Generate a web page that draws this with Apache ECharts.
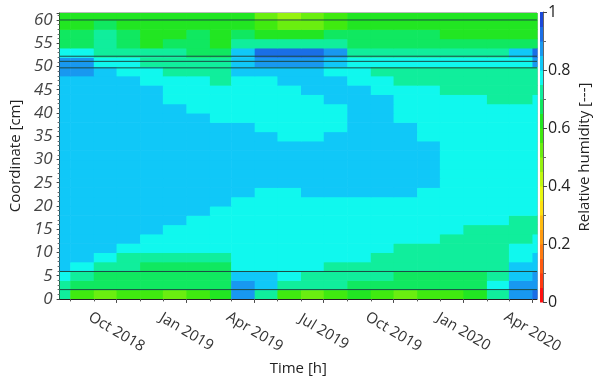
<!DOCTYPE html>
<html>
<head>
<meta charset="utf-8">
<script src="https://cdn.jsdelivr.net/npm/echarts@6/dist/echarts.min.js"></script>
<style>html,body{margin:0;padding:0;background:#fff}#chart{width:593px;height:381px}</style>
</head>
<body>
<div id="chart"></div>
<script>
// time columns (month starts) and depth rows [cm]
var timeEdges = ['2018-07-18','2018-08-01','2018-09-01','2018-10-01','2018-11-01','2018-12-01',
  '2019-01-01','2019-02-01','2019-03-01','2019-04-01','2019-05-01','2019-06-01','2019-07-01',
  '2019-08-01','2019-09-01','2019-10-01','2019-11-01','2019-12-01','2020-01-01','2020-02-01',
  '2020-03-01','2020-04-01','2020-04-07'];
var depthEdges = [0,2,4,6,8,10,12,14,16,18,20,22,24,26,28,30,32,34,36,38,40,42,44,46,48,50,52,54,56,58,60,61.5];

// relative humidity per depth row (bottom -> top), one value per time column
var humidity = [
  [.72,.57,.52,.57,.57,.52,.57,.62,.87,.72,.57,.52,.57,.62,.57,.52,.57,.57,.62,.72,.87,.92],
  [.72,.67,.67,.67,.67,.67,.67,.67,.87,.82,.72,.72,.72,.67,.67,.67,.67,.67,.67,.77,.87,.87],
  [.77,.72,.67,.67,.67,.67,.67,.67,.82,.82,.77,.72,.72,.72,.72,.67,.67,.67,.67,.72,.82,.87],
  [.82,.77,.72,.72,.67,.67,.67,.67,.77,.77,.77,.77,.72,.72,.72,.72,.72,.72,.72,.72,.82,.82],
  [.82,.82,.77,.72,.72,.72,.72,.72,.77,.77,.77,.77,.77,.77,.72,.72,.72,.72,.72,.72,.77,.82],
  [.82,.82,.82,.77,.77,.77,.77,.77,.77,.77,.77,.77,.77,.77,.77,.72,.72,.72,.72,.72,.77,.77],
  [.82,.82,.82,.82,.77,.77,.77,.77,.77,.77,.77,.77,.77,.77,.77,.77,.77,.72,.72,.72,.72,.77],
  [.82,.82,.82,.82,.82,.77,.77,.77,.77,.77,.77,.77,.77,.77,.77,.77,.77,.77,.72,.72,.72,.72],
  [.82,.82,.82,.82,.82,.82,.77,.77,.77,.77,.77,.77,.77,.77,.77,.77,.77,.77,.77,.77,.72,.72],
  [.82,.82,.82,.82,.82,.82,.82,.77,.77,.77,.77,.77,.77,.77,.77,.77,.77,.77,.77,.77,.77,.77],
  [.82,.82,.82,.82,.82,.82,.82,.82,.77,.77,.77,.77,.77,.77,.77,.77,.77,.77,.77,.77,.77,.77],
  [.82,.82,.82,.82,.82,.82,.82,.82,.82,.77,.77,.82,.82,.82,.82,.82,.77,.77,.77,.77,.77,.77],
  [.82,.82,.82,.82,.82,.82,.82,.82,.82,.82,.82,.82,.82,.82,.82,.82,.82,.77,.77,.77,.77,.77],
  [.82,.82,.82,.82,.82,.82,.82,.82,.82,.82,.82,.82,.82,.82,.82,.82,.82,.77,.77,.77,.77,.77],
  [.82,.82,.82,.82,.82,.82,.82,.82,.82,.82,.82,.82,.82,.82,.82,.82,.82,.77,.77,.77,.77,.77],
  [.82,.82,.82,.82,.82,.82,.82,.82,.82,.82,.82,.82,.82,.82,.82,.82,.82,.77,.77,.77,.77,.77],
  [.82,.82,.82,.82,.82,.82,.82,.82,.82,.82,.82,.82,.82,.82,.82,.82,.82,.77,.77,.77,.77,.77],
  [.82,.82,.82,.82,.82,.82,.82,.82,.82,.82,.77,.77,.82,.82,.82,.82,.77,.77,.77,.77,.77,.77],
  [.82,.82,.82,.82,.82,.82,.82,.82,.82,.77,.77,.77,.77,.82,.82,.82,.77,.77,.77,.77,.77,.77],
  [.82,.82,.82,.82,.82,.82,.82,.77,.77,.77,.77,.77,.77,.82,.82,.77,.77,.77,.77,.77,.77,.77],
  [.82,.82,.82,.82,.82,.82,.77,.77,.77,.77,.77,.77,.77,.82,.82,.77,.77,.77,.77,.77,.77,.77],
  [.82,.82,.82,.82,.82,.77,.77,.77,.77,.77,.77,.77,.82,.82,.82,.77,.77,.77,.77,.72,.72,.77],
  [.82,.82,.82,.82,.82,.77,.77,.77,.77,.77,.77,.82,.82,.82,.77,.77,.77,.72,.72,.72,.72,.72],
  [.82,.82,.82,.82,.77,.77,.77,.72,.77,.77,.82,.82,.82,.77,.77,.72,.72,.72,.72,.72,.72,.72],
  [.87,.87,.82,.77,.77,.72,.72,.72,.82,.82,.82,.82,.77,.77,.72,.72,.72,.72,.72,.72,.72,.72],
  [.87,.87,.77,.77,.72,.72,.72,.72,.82,.87,.87,.87,.82,.77,.77,.77,.77,.77,.77,.77,.77,.87],
  [.77,.77,.72,.72,.72,.72,.67,.67,.82,.92,.92,.92,.87,.72,.72,.72,.72,.72,.72,.72,.82,.92],
  [.67,.67,.72,.67,.62,.67,.67,.62,.72,.72,.72,.72,.72,.67,.67,.67,.67,.67,.67,.67,.67,.67],
  [.67,.67,.72,.67,.62,.62,.67,.62,.67,.62,.62,.62,.67,.67,.67,.67,.67,.62,.62,.62,.62,.62],
  [.62,.62,.67,.62,.62,.62,.62,.62,.62,.57,.52,.52,.57,.62,.62,.62,.62,.62,.62,.62,.62,.62],
  [.62,.62,.62,.62,.62,.62,.62,.62,.62,.52,.47,.52,.57,.62,.62,.62,.62,.62,.62,.62,.62,.62]
];

// material / observation boundaries drawn as thin lines [cm]
var layerLines = [2.0, 5.9, 49.7, 51.1, 52.2, 60.0];

var labelDates = ['2018-10-01','2019-01-01','2019-04-01','2019-07-01','2019-10-01','2020-01-01','2020-04-01'];
var monthNames = ['Jan','Feb','Mar','Apr','May','Jun','Jul','Aug','Sep','Oct','Nov','Dec'];

var levelBreaks = [0,0.05,0.1,0.15,0.2,0.25,0.3,0.35,0.4,0.45,0.5,0.55,0.6,0.65,0.7,0.75,0.8,0.85,0.9,0.95,1];
var levelColors = ['#ff1010','#ff3a10','#ff5a10','#ff7a10','#ff9a10','#ffbb10','#ffe010','#e8f810',
  '#c0f810','#96f210','#6aee10','#40ea10','#22e622','#10e860','#10ee9c','#10f8ee',
  '#10c8f8','#1898f0','#1a6ee6','#1a48d8'];

function ts(s) {
  var p = s.split('-');
  return new Date(+p[0], +p[1] - 1, +p[2]).getTime();
}

var tMin = ts(timeEdges[0]);
var tMax = ts(timeEdges[timeEdges.length - 1]);

var cells = [];
humidity.forEach(function (row, r) {
  row.forEach(function (v, c) {
    cells.push([v, ts(timeEdges[c]), ts(timeEdges[c + 1]), depthEdges[r], depthEdges[r + 1]]);
  });
});

var barCells = [];
for (var i = 0; i < levelColors.length; i++) {
  barCells.push([(levelBreaks[i] + levelBreaks[i + 1]) / 2, 0, levelBreaks[i], levelBreaks[i + 1]]);
}

var pieces = levelColors.map(function (col, i) {
  var p = {gte: levelBreaks[i], color: col};
  if (i === levelColors.length - 1) p.lte = levelBreaks[i + 1]; else p.lt = levelBreaks[i + 1];
  return p;
});

function renderCell(params, api) {
  var a = api.coord([api.value(1), api.value(4)]);
  var b = api.coord([api.value(2), api.value(3)]);
  return {
    type: 'rect',
    shape: {x: a[0], y: a[1], width: b[0] - a[0] + 0.6, height: b[1] - a[1] + 0.6},
    style: {fill: api.visual('color')}
  };
}

function renderBar(params, api) {
  var top = api.coord([0, api.value(3)]);
  var bot = api.coord([0, api.value(2)]);
  var w = api.size([1, 0])[0];
  return {
    type: 'rect',
    shape: {x: top[0] - w / 2, y: top[1], width: w, height: bot[1] - top[1] + 0.5},
    style: {fill: api.visual('color')}
  };
}

var font = 'Open Sans';
var lineSeries = layerLines.map(function (d) {
  return {
    type: 'line', xAxisIndex: 0, yAxisIndex: 0, silent: true, showSymbol: false,
    lineStyle: {color: '#1d4a44', width: 1},
    data: [[tMin, d], [tMax, d]], z: 5
  };
});

var chart = echarts.init(document.getElementById('chart'));
chart.setOption({
  animation: false,
  textStyle: {fontFamily: font},
  grid: [
    {left: 58, top: 13, width: 479, height: 290, show: true, borderColor: '#777', borderWidth: 1, backgroundColor: 'transparent'},
    {left: 540, top: 12, width: 7, height: 290}
  ],
  visualMap: {
    type: 'piecewise', show: false, dimension: 0, seriesIndex: [0, 1], pieces: pieces
  },
  xAxis: [
    {
      type: 'value', gridIndex: 0, min: tMin, max: tMax,
      name: 'Time [h]', nameLocation: 'middle', nameGap: 62,
      nameTextStyle: {fontSize: 15, color: '#222', fontFamily: font},
      axisLine: {lineStyle: {color: '#222'}},
      axisTick: {length: 4, lineStyle: {color: '#444'}, customValues: labelDates.map(ts)},
      axisLabel: {
        customValues: labelDates.map(ts), rotate: -31, align: 'center', verticalAlign: 'middle', margin: 33,
        fontSize: 15, color: '#333', fontFamily: font,
        formatter: function (v) { var d = new Date(v); return monthNames[d.getMonth()] + ' ' + d.getFullYear(); }
      },
      splitLine: {show: false}
    },
    {
      type: 'value', gridIndex: 0, min: tMin, max: tMax, position: 'bottom',
      axisLine: {show: false},
      axisTick: {length: 2.5, lineStyle: {color: '#555'}, customValues: timeEdges.slice(1, -1).map(ts)},
      axisLabel: {show: false}, splitLine: {show: false}
    },
    {type: 'category', gridIndex: 1, data: ['rh'], show: false}
  ],
  yAxis: [
    {
      type: 'value', gridIndex: 0, min: 0, max: 61.5, interval: 5,
      name: 'Coordinate [cm]', nameLocation: 'middle', nameGap: 35,
      nameTextStyle: {fontSize: 15, color: '#222', fontFamily: font},
      axisLine: {show: true, lineStyle: {color: '#222'}},
      axisTick: {show: true, length: 3, lineStyle: {color: '#444'}},
      minorTick: {show: true, splitNumber: 5, length: 2, lineStyle: {color: '#666'}},
      axisLabel: {
        fontSize: 17, fontStyle: 'italic', color: '#444', margin: 7, fontFamily: font,
        formatter: function (v) { return v % 5 === 0 ? String(v) : ''; }
      },
      splitLine: {show: false}
    },
    {
      type: 'value', gridIndex: 1, min: 0, max: 1, interval: 0.2, position: 'right',
      name: 'Relative humidity [---]', nameLocation: 'middle', nameGap: 34, nameRotate: 90,
      nameTextStyle: {fontSize: 15, color: '#222', fontFamily: font},
      axisLine: {show: true, lineStyle: {color: '#666'}},
      axisTick: {show: true, length: 4, lineStyle: {color: '#444'}},
      minorTick: {show: true, splitNumber: 2, length: 3, lineStyle: {color: '#666'}},
      axisLabel: {fontSize: 16, color: '#222', margin: 5, fontFamily: font,
        formatter: function (v) { return v === 0 || v === 1 ? String(v) : v.toFixed(1); }},
      splitLine: {show: false}
    }
  ],
  series: [
    {
      type: 'custom', xAxisIndex: 0, yAxisIndex: 0, renderItem: renderCell,
      encode: {x: [1, 2], y: [3, 4]}, data: cells, silent: true, clip: true
    },
    {
      type: 'custom', xAxisIndex: 2, yAxisIndex: 1, renderItem: renderBar,
      encode: {x: 1, y: [2, 3]}, data: barCells, silent: true
    }
  ].concat(lineSeries)
});
</script>
</body>
</html>
